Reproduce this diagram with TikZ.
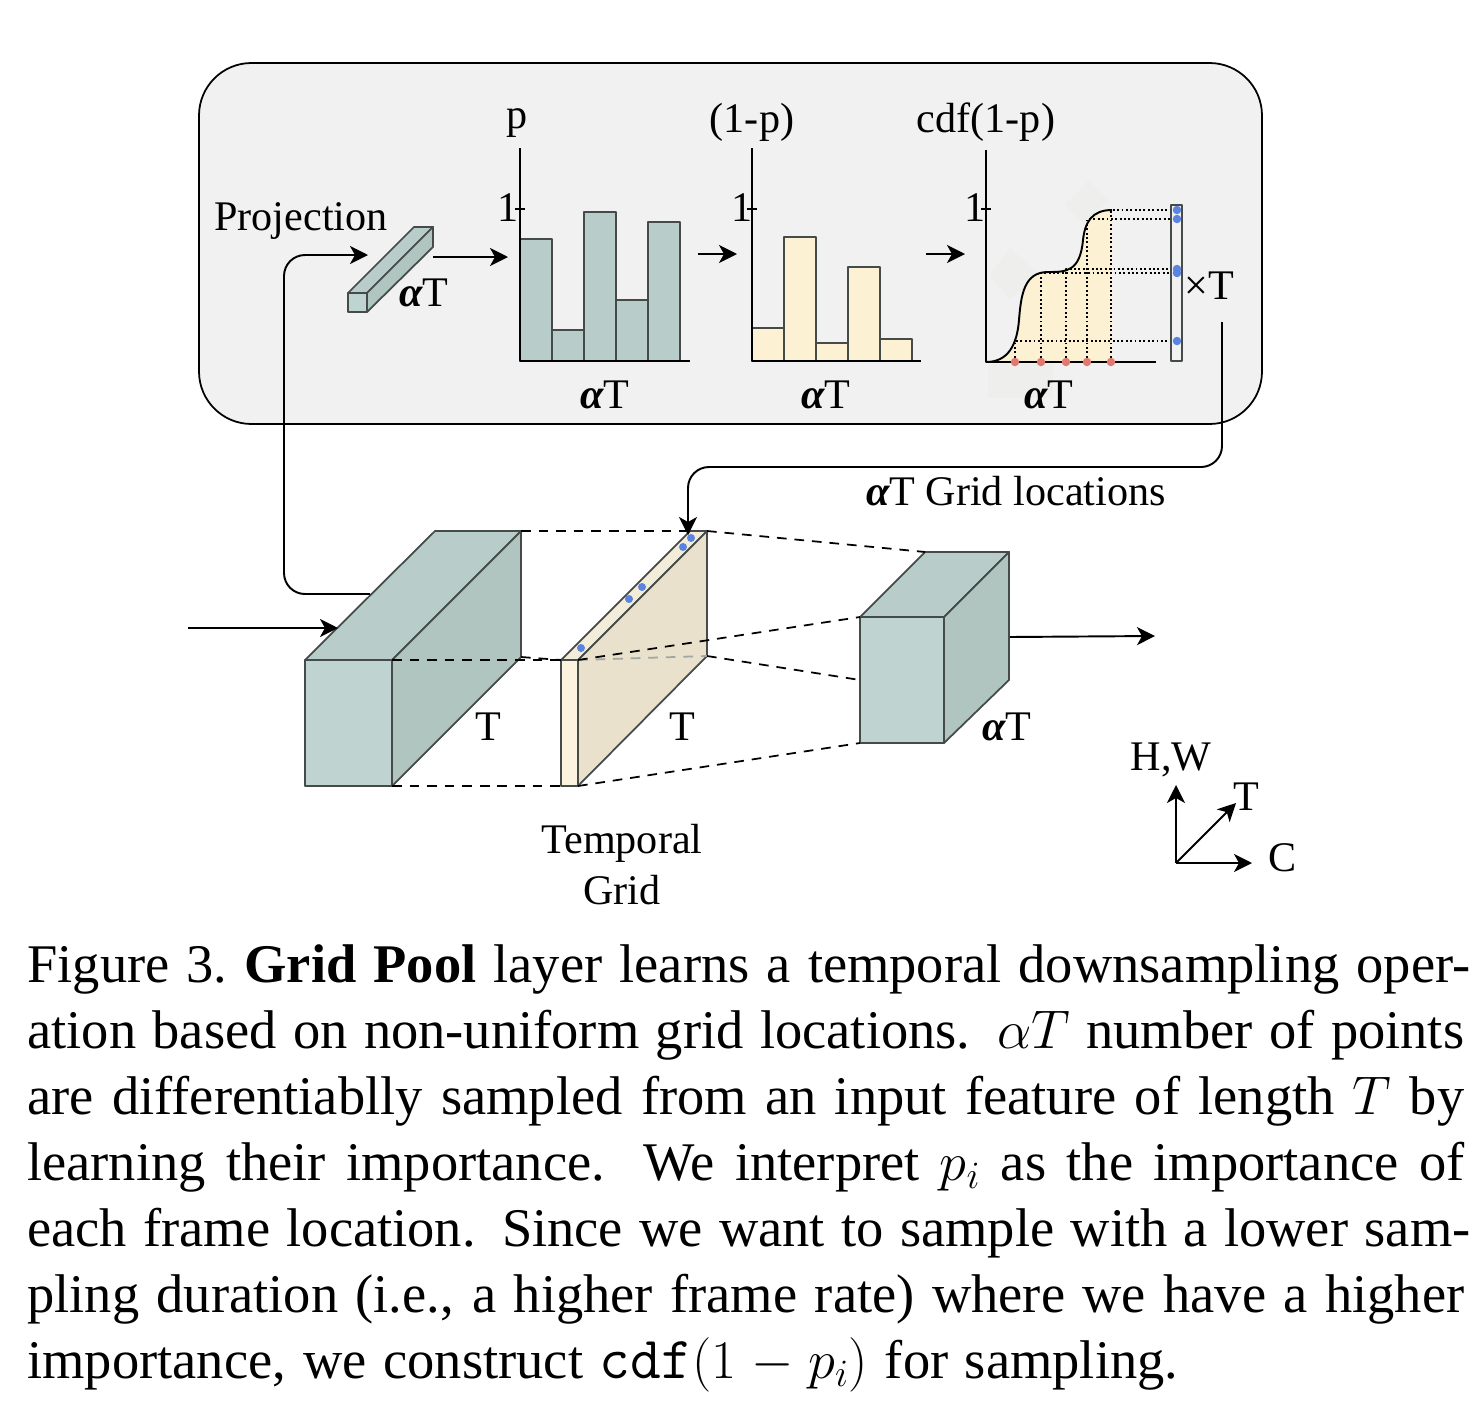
\documentclass[tikz,border=0pt]{standalone}
\usepackage{fix-cm}
\usepackage{amsmath}
\usepackage{fontspec}
\setmainfont{Liberation Serif}
\usetikzlibrary{arrows.meta}
\DeclareMathSizes{31}{31}{22}{16}
\definecolor{panelgray}{HTML}{F1F1F1}
\definecolor{tealfront}{HTML}{BFD4D0}
\definecolor{tealtop}{HTML}{B8CDCA}
\definecolor{tealside}{HTML}{B0C4C0}
\definecolor{creamfront}{HTML}{FBF3DD}
\definecolor{creamtop}{HTML}{F3ECD8}
\definecolor{creamside}{HTML}{E9E1CB}
\definecolor{creambar}{HTML}{FCF1D2}
\definecolor{edgegray}{HTML}{444B48}
\definecolor{dotblue}{HTML}{5B84E0}
\definecolor{dotred}{HTML}{E07A70}
\definecolor{ghost}{HTML}{EEEEEC}
\setlength{\unitlength}{0.02cm}
\newcommand{\capline}[2][1437]{\hbox to #1\unitlength{#2}}
\newcommand{\aT}{{\bfseries\itshape α}T}
\begin{document}
\begin{tikzpicture}[x=0.02cm,y=-0.02cm,line join=round,
        lbl/.style = {inner sep=0pt,font=\fontsize{24}{26}\selectfont},
        capt/.style = {anchor=base west,inner sep=0pt,font=\fontsize{31}{37}\selectfont},
        arr/.style = {-{Stealth[length=0.36cm,width=0.36cm,inset=0.1cm]},line width=1.1pt,rounded corners=0.42cm},
        axisline/.style = {line width=1.1pt},
        face/.style = {draw=edgegray,line width=1pt},
        cutline/.style = {dashed,dash pattern=on 5.5pt off 4.5pt,line width=1pt},
        bluedot/.style = {circle,fill=dotblue,inner sep=0pt,minimum size=0.17cm},
        reddot/.style = {circle,fill=dotred,inner sep=0pt,minimum size=0.17cm},
        dots/.style = {dash pattern=on 1.1pt off 1.4pt,line width=1.1pt}]
    \useasboundingbox (0,0) rectangle (1482,1410);
    \fill[white] (0,0) rectangle (1482,1410);

    % panel
    \draw[fill=panelgray,line width=1pt,rounded corners=1.05cm] (199,63) rectangle (1262,424);
    \fill[ghost] (1010,248) -- (1040,275) -- (1010,300) -- (990,275) -- cycle;
    \fill[ghost] (1088,181) -- (1108,200) -- (1085,225) -- (1065,205) -- cycle;
    \fill[ghost] (988,364) rectangle (1053,398);

    % small projection block
    \coordinate (pa) at (348,293); \coordinate (pb) at (367,293);
    \coordinate (pc) at (367,312); \coordinate (pd) at (348,312);
    \coordinate (pe) at (414,227); \coordinate (pf) at (433,227);
    \coordinate (pg) at (433,247);
    \draw[face,fill=tealtop] (pa) -- (pe) -- (pf) -- (pb) -- cycle;
    \draw[face,fill=tealside] (pb) -- (pf) -- (pg) -- (pc) -- cycle;
    \draw[face,fill=tealfront] (pa) -- (pb) -- (pc) -- (pd) -- cycle;
    \node[lbl] (proj) at (301,221) {Projection};
    \node[lbl] (projT) at (424,293) {\aT};

    % first chart
    \foreach \x/\t in {520/239,552/330,584/212,616/300,648/222}
        \draw[face,fill=tealtop] (\x,361) rectangle (\x+32,\t);
    \coordinate (a1) at (520,148); \coordinate (a2) at (520,361); \coordinate (a3) at (690,361);
    \draw[axisline] (a1) -- (a2) -- (a3);
    \draw[axisline] (515,209) -- (525,209);
    \node[lbl] (p1) at (517,123) {p};
    \node[lbl] (one1) at (508,208) {1};
    \node[lbl] (t1) at (605,395) {\aT};

    % second chart
    \foreach \x/\t in {752/328,784/237,816/343,848/267,880/339}
        \draw[face,fill=creambar] (\x,361) rectangle (\x+32,\t);
    \coordinate (b1) at (752,148); \coordinate (b2) at (752,361); \coordinate (b3) at (921,361);
    \draw[axisline] (b1) -- (b2) -- (b3);
    \draw[axisline] (747,209) -- (757,209);
    \node[lbl] (p2) at (752,122) {(1-p)};
    \node[lbl] (one2) at (742,208) {1};
    \node[lbl] (t2) at (826,395) {\aT};

    % third chart, curve and sampled locations
    \fill[creambar] (986,362) .. controls (1008,362) and (1017,345) .. (1019,320)
        .. controls (1021,295) and (1024,272) .. (1048,272)
        .. controls (1066,272) and (1080,272) .. (1083,240)
        .. controls (1085,222) and (1092,210) .. (1112,210) -- (1112,362) -- cycle;
    \foreach \x/\y in {1015/341,1041/273,1066/269,1087/219,1111/210}
        \draw[dots] (\x,362) -- (\x,\y) -- (1171,\y);
    \draw[axisline] (986,362) .. controls (1008,362) and (1017,345) .. (1019,320)
        .. controls (1021,295) and (1024,272) .. (1048,272)
        .. controls (1066,272) and (1080,272) .. (1083,240)
        .. controls (1085,222) and (1092,210) .. (1112,210);
    \coordinate (c1) at (986,150); \coordinate (c2) at (986,362); \coordinate (c3) at (1156,362);
    \draw[axisline] (c1) -- (c2) -- (c3);
    \draw[axisline] (981,209) -- (991,209);
    \foreach \x in {1015,1041,1066,1087,1111}
        \node[reddot] (r\x) at (\x,362) {};
    \draw[draw=edgegray,line width=1pt] (1171,205) rectangle (1182,361);
    \foreach \y in {210,219,269,273,341}
        \node[bluedot] (s\y) at (1177,\y) {};
    \node[lbl] (p3) at (986,122) {cdf(1-p)};
    \node[lbl] (one3) at (975,208) {1};
    \node[lbl] (t3) at (1049,395) {\aT};
    \node[lbl] (tt) at (1209,286) {×T};

    % arrows between the charts
    \coordinate (h1) at (433,257); \coordinate (h2) at (508,257);
    \coordinate (h3) at (698,254); \coordinate (h4) at (737,254);
    \coordinate (h5) at (926,254); \coordinate (h6) at (965,254);
    \draw[arr] (h1) -- (h2);
    \draw[arr] (h3) -- (h4);
    \draw[arr] (h5) -- (h6);

    % input block
    \coordinate (ia) at (305,660); \coordinate (ib) at (392,660);
    \coordinate (ic) at (392,786); \coordinate (id) at (305,786);
    \coordinate (ie) at (435,531); \coordinate (if) at (521,531);
    \coordinate (ig) at (521,657);
    \draw[face,fill=tealtop] (ia) -- (ie) -- (if) -- (ib) -- cycle;
    \draw[face,fill=tealside] (ib) -- (if) -- (ig) -- (ic) -- cycle;
    \draw[face,fill=tealfront] (ia) -- (ib) -- (ic) -- (id) -- cycle;
    \node[lbl] (tin) at (488,727) {T};

    % temporal grid
    \coordinate (ga) at (561,660); \coordinate (gb) at (578,660);
    \coordinate (gc) at (578,786); \coordinate (gd) at (561,786);
    \coordinate (ge) at (690,531); \coordinate (gf) at (707,531);
    \coordinate (gg) at (707,656);
    \draw[face,fill=creamtop] (ga) -- (ge) -- (gf) -- (gb) -- cycle;
    \draw[face,fill=creamside] (gb) -- (gf) -- (gg) -- (gc) -- cycle;
    \draw[face,fill=creamfront] (ga) -- (gb) -- (gc) -- (gd) -- cycle;
    \draw[cutline,edgegray!50] (gb) -- (gg);
    \foreach \n/\x/\y in {1/581/648,2/629/599,3/642/587,4/683/547,5/691/538}
        \node[bluedot,minimum size=0.16cm] (g\n) at (\x,\y) {};
    \node[lbl] (tgrid) at (682,727) {T};
    \node[lbl] (temporal) at (622,843) {Temporal};
    \node[lbl] (grid) at (622,890) {Grid};

    % output block
    \coordinate (oa) at (860,617); \coordinate (ob) at (944,617);
    \coordinate (oc) at (944,743); \coordinate (od) at (860,743);
    \coordinate (oe) at (925,552); \coordinate (of) at (1009,552);
    \coordinate (og) at (1009,680);
    \draw[face,fill=tealtop] (oa) -- (oe) -- (of) -- (ob) -- cycle;
    \draw[face,fill=tealside] (ob) -- (of) -- (og) -- (oc) -- cycle;
    \draw[face,fill=tealfront] (oa) -- (ob) -- (oc) -- (od) -- cycle;
    \node[lbl] (tout) at (1007,727) {\aT};

    % dashed guides
    \draw[cutline] (if) -- (ge);
    \draw[cutline] (ib) -- (ga);
    \draw[cutline] (ig) -- (ga);
    \draw[cutline] (ic) -- (gd);
    \draw[cutline] (gf) -- (oe);
    \draw[cutline] (gb) -- (oa);
    \draw[cutline] (gg) -- (860,680);
    \draw[cutline] (gc) -- (od);

    % flow arrows
    \coordinate (in1) at (188,628); \coordinate (in2) at (338,628);
    \coordinate (out1) at (1010,637); \coordinate (out2) at (1155,636);
    \draw[arr] (in1) -- (in2);
    \draw[arr] (out1) -- (out2);
    \coordinate (pr1) at (370,594); \coordinate (pr2) at (368,255);
    \draw[arr] (pr1) -- (284,594) -- (284,255) -- (pr2);
    \coordinate (gl1) at (1222,322); \coordinate (gl2) at (688,535);
    \draw[arr] (gl1) -- (1222,467) -- (688,467) -- (gl2);
    \node[lbl] (gridloc) at (1016,491) {\aT{} Grid locations};

    % axes
    \coordinate (ax) at (1176,863); \coordinate (axh) at (1176,785);
    \coordinate (axc) at (1252,863); \coordinate (axt) at (1236,803);
    \draw[arr] (ax) -- (axh);
    \draw[arr] (ax) -- (axc);
    \draw[arr] (ax) -- (axt);
    \node[lbl] (hw) at (1171,760) {H,W};
    \node[lbl] (tax) at (1246,797) {T};
    \node[lbl] (cax) at (1283,858) {C};

    % figure text
    \node[capt] (l1) at (27,982) {\capline[1443]{\frenchspacing Figure 3. \textbf{Grid Pool} layer learns a temporal downsampling oper-}};
    \node[capt] (l2) at (27,1048) {\capline{ation based on non-uniform grid locations. $\alpha T$ number of points}};
    \node[capt] (l3) at (27,1114) {\capline{are differentiablly sampled from an input feature of length $T$ by}};
    \node[capt] (l4) at (27,1180) {\capline{learning their importance. We interpret $p_i$ as the importance of}};
    \node[capt] (l5) at (27,1246) {\capline[1443]{each frame location. Since we want to sample with a lower sam-}};
    \node[capt] (l6) at (27,1312) {\capline{pling duration (i.e., a higher frame rate) where we have a higher}};
    \node[capt] (l7) at (27,1378) {\capline[1151]{importance, we construct {\fontsize{34}{37}\selectfont\ttfamily cdf}$(1-p_i)$ for sampling.}};
\end{tikzpicture}
\end{document}
